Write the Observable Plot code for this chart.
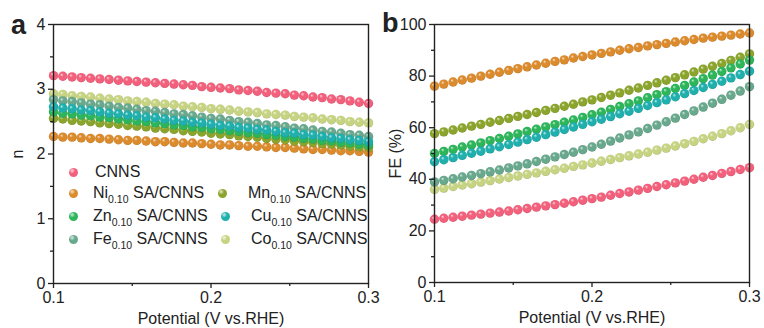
<!DOCTYPE html>
<html>
<head>
<meta charset="utf-8">
<script src="https://cdn.jsdelivr.net/npm/d3@7"></script>
<script src="https://cdn.jsdelivr.net/npm/@observablehq/plot@0.6"></script>
<style>
  html, body { margin: 0; padding: 0; background: #fff; }
  #wrap { position: relative; width: 764px; height: 328px; font-family: "Liberation Sans", Arial, sans-serif; color: #222; overflow: hidden; }
  #wrap svg.plotsvg { position: absolute; top: 0; }
  .panel-letter { position: absolute; font-weight: bold; font-size: 27px; line-height: 1; }
  .leg { position: absolute; font-size: 16px; line-height: 1; white-space: nowrap; }
  .leg .mk { position: absolute; width: 9px; height: 9px; border-radius: 50%; }
  .leg sub { font-size: 10.5px; vertical-align: -5px; }
</style>
</head>
<body>
<div id="wrap"></div>
<script>
// ---------- data ----------
const potential = [0.1000, 0.1059, 0.1118, 0.1176, 0.1235, 0.1294, 0.1353, 0.1412, 0.1471, 0.1529,
  0.1588, 0.1647, 0.1706, 0.1765, 0.1824, 0.1882, 0.1941, 0.2000, 0.2059, 0.2118,
  0.2176, 0.2235, 0.2294, 0.2353, 0.2412, 0.2471, 0.2529, 0.2588, 0.2647, 0.2706,
  0.2765, 0.2824, 0.2882, 0.2941, 0.3000];

const seriesKeys = ["CNNS", "Ni", "Mn", "Zn", "Cu", "Fe", "Co"];
const seriesNames = ["CNNS", "Ni0.10 SA/CNNS", "Mn0.10 SA/CNNS", "Zn0.10 SA/CNNS", "Cu0.10 SA/CNNS", "Fe0.10 SA/CNNS", "Co0.10 SA/CNNS"];

// panel a: electron transfer number n
const nCNNS = [3.21,3.20,3.19,3.18,3.17,3.16,3.15,3.14,3.13,3.12,3.11,3.10,3.09,3.08,3.07,3.06,3.04,3.03,3.02,3.01,2.99,2.98,2.97,2.95,2.94,2.93,2.91,2.90,2.88,2.87,2.85,2.84,2.82,2.80,2.78];
const nNi = [2.27,2.26,2.26,2.25,2.24,2.24,2.23,2.22,2.21,2.21,2.20,2.19,2.19,2.18,2.17,2.17,2.16,2.15,2.14,2.14,2.13,2.12,2.12,2.11,2.10,2.10,2.09,2.08,2.07,2.07,2.06,2.05,2.05,2.04,2.03];
const nMn = [2.55,2.54,2.52,2.51,2.50,2.48,2.47,2.46,2.44,2.43,2.42,2.40,2.39,2.38,2.36,2.35,2.34,2.32,2.31,2.30,2.28,2.27,2.26,2.24,2.23,2.22,2.20,2.19,2.18,2.16,2.15,2.14,2.12,2.11,2.10];
const nZn = [2.65,2.63,2.62,2.60,2.59,2.57,2.56,2.54,2.53,2.51,2.50,2.48,2.47,2.45,2.44,2.42,2.41,2.39,2.38,2.36,2.35,2.33,2.32,2.30,2.29,2.27,2.26,2.24,2.23,2.21,2.20,2.18,2.17,2.15,2.14];
const nCu = [2.73,2.71,2.70,2.68,2.67,2.65,2.63,2.62,2.60,2.59,2.57,2.56,2.54,2.52,2.51,2.49,2.48,2.46,2.44,2.43,2.41,2.40,2.38,2.37,2.35,2.33,2.32,2.30,2.29,2.27,2.25,2.24,2.22,2.21,2.19];
const nFe = [2.84,2.82,2.81,2.79,2.77,2.76,2.74,2.72,2.71,2.69,2.67,2.66,2.64,2.62,2.61,2.59,2.57,2.55,2.54,2.52,2.50,2.49,2.47,2.45,2.44,2.42,2.40,2.39,2.37,2.35,2.34,2.32,2.30,2.29,2.27];
const nCo = [2.93,2.92,2.90,2.89,2.88,2.86,2.85,2.84,2.82,2.81,2.80,2.78,2.77,2.76,2.74,2.73,2.72,2.70,2.69,2.68,2.66,2.65,2.64,2.62,2.61,2.60,2.58,2.57,2.56,2.54,2.53,2.52,2.50,2.49,2.48];

// panel b: Faradaic efficiency (%)
const feCNNS = [24.5,24.9,25.3,25.7,26.1,26.5,26.9,27.3,27.7,28.2,28.7,29.2,29.7,30.2,30.7,31.3,31.9,32.5,33.1,33.8,34.5,35.1,35.8,36.5,37.2,37.9,38.6,39.3,40.0,40.8,41.5,42.3,43.0,43.8,44.5];
const feNi = [76.1,76.9,77.7,78.5,79.2,80.0,80.7,81.5,82.2,82.9,83.6,84.3,85.0,85.7,86.3,87.0,87.6,88.2,88.8,89.4,90.0,90.6,91.1,91.7,92.2,92.7,93.2,93.7,94.2,94.7,95.1,95.5,95.9,96.3,96.7];
const feMn = [57.7,58.4,59.1,59.9,60.6,61.3,62.1,62.8,63.6,64.4,65.1,65.9,66.7,67.5,68.3,69.1,70.0,70.8,71.7,72.6,73.5,74.5,75.4,76.4,77.4,78.4,79.4,80.5,81.6,82.7,83.8,84.9,86.1,87.3,88.6];
const feZn = [50.0,50.8,51.6,52.5,53.3,54.1,55.0,55.8,56.7,57.6,58.5,59.4,60.3,61.2,62.1,63.0,64.0,65.0,66.0,67.1,68.2,69.3,70.4,71.6,72.8,74.0,75.2,76.4,77.7,79.0,80.4,81.8,83.2,84.7,86.2];
const feCu = [46.8,47.6,48.4,49.3,50.1,50.9,51.8,52.6,53.5,54.4,55.4,56.3,57.3,58.3,59.3,60.3,61.3,62.3,63.3,64.3,65.4,66.4,67.5,68.6,69.7,70.8,72.0,73.2,74.4,75.6,76.8,78.0,79.3,80.6,81.9];
const feFe = [39.0,39.6,40.2,40.9,41.5,42.2,42.9,43.6,44.4,45.2,46.0,46.9,47.8,48.7,49.6,50.5,51.5,52.5,53.6,54.8,56.0,57.2,58.4,59.7,61.0,62.3,63.7,65.1,66.5,68.0,69.5,71.0,72.6,74.2,75.9];
const feCo = [36.1,36.6,37.2,37.8,38.3,38.9,39.5,40.1,40.7,41.3,41.9,42.5,43.1,43.7,44.3,45.0,45.6,46.3,47.0,47.7,48.4,49.1,49.8,50.5,51.3,52.1,52.9,53.8,54.7,55.7,56.7,57.7,58.8,60.0,61.3];

const xTicks = [0.1, 0.2, 0.3];
const xMinor = [0.15, 0.25];
const nTicks = [0, 1, 2, 3, 4];
const nMinor = [0.5, 1.5, 2.5, 3.5];
const feTicks = [0, 20, 40, 60, 80, 100];
const feMinor = [10, 30, 50, 70, 90];

// ---------- styles ----------
const baseColors = ["#f2607c", "#db8a2c", "#8ba52c", "#2db55a", "#1fb0ad", "#68a88c", "#c6d482"];
const drawOrder = ["CNNS", "Ni", "Co", "Fe", "Mn", "Zn", "Cu"];

const nSeries = {CNNS: nCNNS, Ni: nNi, Mn: nMn, Zn: nZn, Cu: nCu, Fe: nFe, Co: nCo};
const feSeries = {CNNS: feCNNS, Ni: feNi, Mn: feMn, Zn: feZn, Cu: feCu, Fe: feFe, Co: feCo};

function table(src) {
  const rows = [];
  for (const k of drawOrder) src[k].forEach((v, i) => rows.push({s: k, x: potential[i], y: v}));
  return rows;
}

function gradDefs(prefix) {
  let s = "<defs>";
  baseColors.forEach((c, i) => {
    const col = d3.color(c);
    const light = d3.interpolateRgb(c, "#fff")(0.75);
    const dark = col.darker(0.7).formatHex();
    s += `<radialGradient id="${prefix}${i}" cx="0.5" cy="0.5" r="0.55" fx="0.35" fy="0.3">
      <stop offset="0" stop-color="${light}"/>
      <stop offset="0.35" stop-color="${c}"/>
      <stop offset="0.8" stop-color="${c}"/>
      <stop offset="1" stop-color="${dark}"/>
    </radialGradient>`;
  });
  return s + "</defs>";
}

const font = {fontFamily: "'Liberation Sans', Arial, sans-serif", fontSize: "16px", color: "#222", background: "transparent", overflow: "visible"};

function panel({prefix, data, yDomain, yTicks, yMinor, yLabel, width, mL, mR, mB, labelOff}) {
  const svg = Plot.plot({
    width, height: 328, marginLeft: mL, marginRight: mR, marginTop: 24, marginBottom: mB,
    style: font,
    x: {domain: [0.1, 0.3]},
    y: {domain: yDomain},
    color: {domain: seriesKeys, range: seriesKeys.map((_, i) => `url(#${prefix}${i})`)},
    marks: [
      Plot.dot(data, {x: "x", y: "y", fill: "s", r: 4.7}),
      Plot.frame({stroke: "#222", strokeWidth: 1.4}),
      Plot.axisX({ticks: xTicks, tickSize: 5, tickPadding: 3, fontSize: 16, tickFormat: d3.format(".1f"),
        label: "Potential (V vs.RHE)", labelAnchor: "center", labelOffset: 40, labelArrow: "none", strokeWidth: 1.3}),
      Plot.axisX({ticks: xMinor, tickSize: 3, tickFormat: () => "", label: null, strokeWidth: 1.3}),
      Plot.axisY({ticks: yTicks, tickSize: 5, tickPadding: 3, fontSize: 16, tickFormat: d3.format("d"),
        label: yLabel, labelAnchor: "center", labelOffset: labelOff, labelArrow: "none", strokeWidth: 1.3}),
      Plot.axisY({ticks: yMinor, tickSize: 3, tickFormat: () => "", label: null, strokeWidth: 1.3})
    ]
  });
  svg.classList.add("plotsvg");
  svg.insertAdjacentHTML("afterbegin", gradDefs(prefix));
  return svg;
}

const wrap = document.getElementById("wrap");
const svgA = panel({prefix: "ga", data: table(nSeries), yDomain: [0, 4], yTicks: nTicks, yMinor: nMinor,
  yLabel: "n", width: 380, mL: 53, mR: 12, mB: 45, labelOff: 42});
svgA.style.left = "0px";
const svgB = panel({prefix: "gb", data: table(feSeries), yDomain: [0, 100], yTicks: feTicks, yMinor: feMinor,
  yLabel: "FE (%)", width: 384, mL: 54, mR: 15, mB: 46, labelOff: 45});
svgB.style.left = "380px";
wrap.appendChild(svgA);
wrap.appendChild(svgB);

// panel letters
const la = document.createElement("div"); la.className = "panel-letter"; la.textContent = "a";
la.style.left = "11px"; la.style.top = "12px"; wrap.appendChild(la);
const lb = document.createElement("div"); lb.className = "panel-letter"; lb.textContent = "b";
lb.style.left = "382px"; lb.style.top = "10px"; wrap.appendChild(lb);

// legend (panel a)
const legendPos = [[73, 172], [73, 193], [222, 193], [73, 216], [225, 216], [73, 239], [225, 239]];
const textOff = [22, 20, 26, 20, 26, 20, 26];
seriesKeys.forEach((k, i) => {
  const [cx, cy] = legendPos[i];
  const c = baseColors[i];
  const light = d3.interpolateRgb(c, "#fff")(0.75);
  const dark = d3.color(c).darker(0.7).formatHex();
  const mk = document.createElement("div");
  mk.className = "leg";
  mk.style.left = (cx - 4.5) + "px"; mk.style.top = (cy - 4.5) + "px";
  mk.innerHTML = `<span class="mk" style="background: radial-gradient(circle at 35% 30%, ${light} 0%, ${c} 35%, ${c} 75%, ${dark} 100%);"></span>`;
  wrap.appendChild(mk);
  const t = document.createElement("div");
  t.className = "leg";
  t.style.left = (cx + textOff[i]) + "px"; t.style.top = (cy - 8) + "px";
  const name = seriesNames[i];
  const m = name.match(/^([A-Za-z]+)(0\.10)(.*)$/);
  t.innerHTML = m ? `${m[1]}<sub>${m[2]}</sub>${m[3]}` : name;
  wrap.appendChild(t);
});
</script>
</body>
</html>
